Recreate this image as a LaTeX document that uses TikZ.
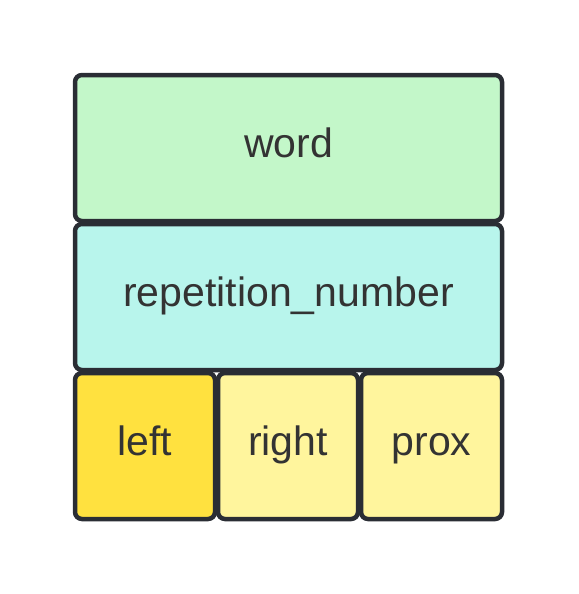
\documentclass[tikz,border=0pt]{standalone}
\usepackage{fontspec}
\setmainfont{Liberation Sans}
\usepackage{xcolor}
\definecolor{wordgreen}{HTML}{C3F7C9}
\definecolor{repcyan}{HTML}{B8F5EC}
\definecolor{leftyellow}{HTML}{FFE13F}
\definecolor{paleyellow}{HTML}{FFF59D}
\definecolor{edgegray}{HTML}{2A2D34}
\definecolor{textgray}{HTML}{333333}
\tikzset{
  field/.style={draw=edgegray, line width=4.5pt, rounded corners=7pt,
    font=\fontsize{41}{49}\selectfont, text=textgray, inner sep=0pt,
    text height=28.7pt, text depth=10.7pt, minimum height=146pt},
}
\begin{document}
\begin{tikzpicture}
        \useasboundingbox (0,0) rectangle (578pt,-594pt);
        \node[field, fill=wordgreen, minimum width=427pt] (word)
        at (288.5pt,-148pt) {word};
        \node[field, fill=repcyan, minimum width=427pt] (repnum)
        at (288.5pt,-297pt) {repetition\_number};
        \node[field, fill=leftyellow, minimum width=140pt] (left)
        at (145pt,-446pt) {left};
        \node[field, fill=paleyellow, minimum width=140pt] (right)
        at (288pt,-446pt) {right};
        \node[field, fill=paleyellow, minimum width=141pt] (prox)
        at (431.5pt,-446pt) {prox};
    \end{tikzpicture}
\end{document}
